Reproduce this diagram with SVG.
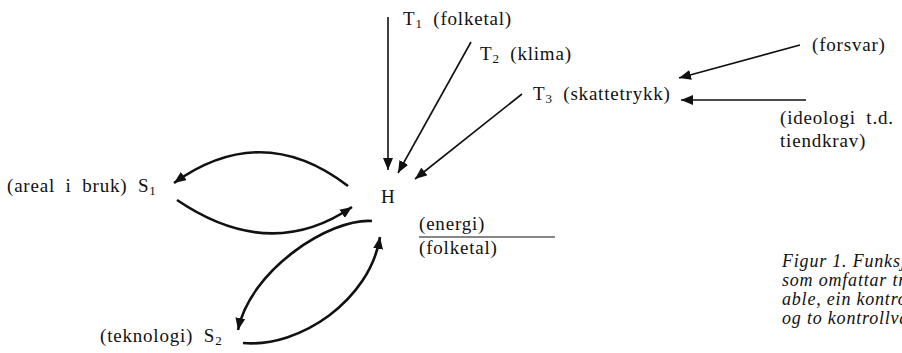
<svg xmlns="http://www.w3.org/2000/svg" width="902" height="353" viewBox="0 0 902 353">
<style>
.t{font-family:"Liberation Serif","Times New Roman",serif;font-size:19px;fill:#111;letter-spacing:0.8px;word-spacing:5px}
.c{font-family:"Liberation Serif","Times New Roman",serif;font-size:18px;font-style:italic;fill:#111;letter-spacing:0.8px}
.sub{font-size:13px}
.ln{fill:none;stroke:#111;stroke-width:1.6}
.arc{fill:none;stroke:#111;stroke-width:2.6}
</style>
<defs>
<marker id="ah" markerUnits="userSpaceOnUse" markerWidth="12" markerHeight="10" viewBox="0 0 12 10" refX="12" refY="5" orient="auto">
<path d="M0,0 L12,5 L0,10 z" fill="#111"/>
</marker>
</defs>
<g id="connectors">
<line class="ln" x1="388" y1="17" x2="388" y2="170" marker-end="url(#ah)"/>
<line class="ln" x1="471" y1="42" x2="398" y2="173" marker-end="url(#ah)"/>
<line class="ln" x1="522" y1="94" x2="415" y2="179" marker-end="url(#ah)"/>
<line class="ln" x1="800" y1="45" x2="679" y2="78" marker-end="url(#ah)"/>
<line class="ln" x1="806" y1="100" x2="681" y2="100" marker-end="url(#ah)"/>
<path class="arc" d="M348,186 Q262,120 174,183" marker-end="url(#ah)"/>
<path class="arc" d="M177,200 Q270,263 352,207" marker-end="url(#ah)"/>
<path class="arc" d="M372,221 C330,218 250,270 238,330" marker-end="url(#ah)"/>
<path class="arc" d="M243,343 C300,348 370,300 380,237" marker-end="url(#ah)"/>
<line x1="419" y1="237" x2="555" y2="237" stroke="#111" stroke-width="1.2"/>
</g>
<g id="T1"><text class="t" x="403" y="25">T<tspan class="sub" dy="3">1</tspan><tspan dy="-3"> (folketal)</tspan></text></g>
<g id="T2"><text class="t" x="480" y="60">T<tspan class="sub" dy="3">2</tspan><tspan dy="-3"> (klima)</tspan></text></g>
<g id="T3"><text class="t" x="533" y="100">T<tspan class="sub" dy="3">3</tspan><tspan dy="-3"> (skattetrykk)</tspan></text></g>
<g id="forsvar"><text class="t" x="812" y="51">(forsvar)</text></g>
<g id="ideologi"><text class="t" x="780" y="124">(ideologi t.d.</text><text class="t" x="780" y="147">tiendkrav)</text></g>
<g id="H"><text class="t" x="381" y="203">H</text></g>
<g id="ratio"><text class="t" x="419" y="230">(energi)</text><text class="t" x="419" y="254">(folketal)</text></g>
<g id="S1"><text class="t" x="7" y="192">(areal i bruk) S<tspan class="sub" dy="3">1</tspan></text></g>
<g id="S2"><text class="t" x="100" y="342">(teknologi) S<tspan class="sub" dy="3">2</tspan></text></g>
<g id="caption">
<text class="c" x="782" y="267">Figur 1. Funksj</text>
<text class="c" x="782" y="286">som omfattar tr</text>
<text class="c" x="782" y="305">able, ein kontro</text>
<text class="c" x="782" y="324">og to kontrollva</text>
</g>
</svg>
